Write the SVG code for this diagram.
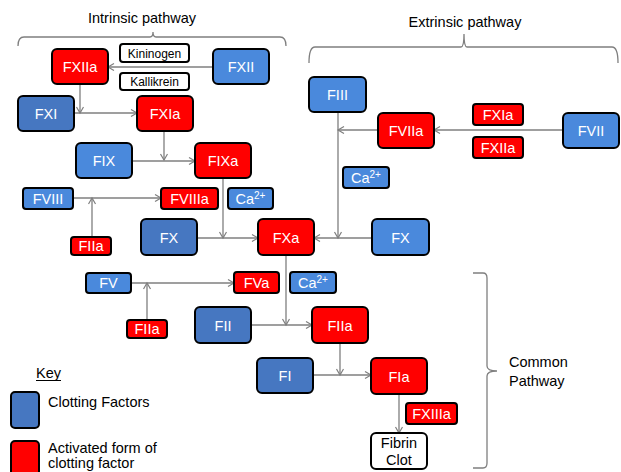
<svg xmlns="http://www.w3.org/2000/svg" width="621" height="472" viewBox="0 0 621 472">
<style>
.n rect{stroke:#000;stroke-width:2}
.r{fill:#FF0000}
.b{fill:#4A89DC}
.d{fill:#4677C1}
.w{fill:#fff}
.t{font-family:"Liberation Sans",Arial,sans-serif;font-size:14.5px;fill:#fff;text-anchor:middle}
.s{font-family:"Liberation Sans",Arial,sans-serif;font-size:12px;fill:#000;text-anchor:middle}
.k{font-family:"Liberation Sans",Arial,sans-serif;font-size:14.5px;fill:#000}
.c line{stroke:#7f7f7f;stroke-width:1.3;marker-end:url(#ah)}
.br{fill:none;stroke:#7f7f7f;stroke-width:1.3}
</style>
<defs>
<marker id="ah" markerUnits="userSpaceOnUse" markerWidth="10" markerHeight="10" refX="7" refY="4" orient="auto">
<path d="M1,0.5 L7,4 L1,7.5" fill="none" stroke="#7f7f7f" stroke-width="1.2"/>
</marker>
</defs>
<rect width="621" height="472" fill="#fff"/>

<!-- titles and braces -->
<text class="k" x="142" y="23" text-anchor="middle">Intrinsic pathway</text>
<path class="br" d="M18,46 Q18,37 24,37 L150,37 Q153,37 153,32 Q153,37 156,37 L280,37 Q286,37 286,46"/>
<text class="k" x="465" y="27" text-anchor="middle">Extrinsic pathway</text>
<path class="br" d="M309,63 Q309,47 315,47 L461,47 Q464,47 464,34 Q464,47 467,47 L612,47 Q618,47 618,63"/>
<path class="br" d="M473,273 L483,273 Q487,273 487,278 L487,366 Q487,371 497,371 Q487,371 487,376 L487,463 Q487,468 483,468 L473,468"/>
<text class="k" x="509" y="367">Common</text>
<text class="k" x="509" y="386">Pathway</text>

<!-- connectors -->
<g class="c">
<line x1="213" y1="67" x2="108" y2="67"/>
<line x1="80" y1="84" x2="80" y2="113"/>
<line x1="74" y1="113" x2="137" y2="113"/>
<line x1="164" y1="131" x2="164" y2="160"/>
<line x1="132" y1="161" x2="195" y2="161"/>
<line x1="73" y1="198" x2="161" y2="198"/>
<line x1="92" y1="237" x2="92" y2="198"/>
<line x1="223" y1="178" x2="223" y2="238"/>
<line x1="197" y1="238" x2="258" y2="238"/>
<line x1="372" y1="238" x2="314" y2="238"/>
<line x1="338" y1="112" x2="338" y2="238"/>
<line x1="563" y1="130" x2="434" y2="130"/>
<line x1="378" y1="130" x2="338" y2="130"/>
<line x1="131" y1="283" x2="234" y2="283"/>
<line x1="147" y1="320" x2="147" y2="283"/>
<line x1="286" y1="255" x2="286" y2="325"/>
<line x1="251" y1="325" x2="312" y2="325"/>
<line x1="340" y1="343" x2="340" y2="375"/>
<line x1="313" y1="375" x2="371" y2="375"/>
<line x1="399" y1="394" x2="399" y2="433"/>
</g>

<!-- nodes -->
<g id="FXIIa" class="n"><rect class="r" x="52" y="49" width="56" height="35" rx="5"/><text class="t" x="80" y="72">FXIIa</text></g>
<g id="Kininogen" class="n"><rect class="w" x="120" y="44" width="69" height="18" rx="3"/><text class="s" x="154.5" y="57.5">Kininogen</text></g>
<g id="Kallikrein" class="n"><rect class="w" x="120" y="73" width="69" height="17" rx="3"/><text class="s" x="154.5" y="86">Kallikrein</text></g>
<g id="FXII" class="n"><rect class="b" x="213" y="49" width="56" height="35" rx="5"/><text class="t" x="241" y="72">FXII</text></g>
<g id="FXI" class="n"><rect class="d" x="18" y="96" width="56" height="35" rx="5"/><text class="t" x="46" y="119">FXI</text></g>
<g id="FXIa" class="n"><rect class="r" x="137" y="96" width="56" height="35" rx="5"/><text class="t" x="165" y="119">FXIa</text></g>
<g id="FIX" class="n"><rect class="b" x="76" y="143" width="56" height="35" rx="5"/><text class="t" x="104" y="166">FIX</text></g>
<g id="FIXa" class="n"><rect class="r" x="195" y="143" width="56" height="35" rx="5"/><text class="t" x="223" y="166">FIXa</text></g>
<g id="FVIII" class="n"><rect class="b" x="23" y="188" width="50" height="21" rx="3"/><text class="t" x="48" y="204">FVIII</text></g>
<g id="FVIIIa" class="n"><rect class="r" x="161" y="188" width="57" height="21" rx="3"/><text class="t" x="189.5" y="204">FVIIIa</text></g>
<g id="Ca1" class="n"><rect class="b" x="228" y="188" width="45" height="21" rx="3"/><text class="t" x="250.5" y="204">Ca<tspan font-size="10" dy="-5">2+</tspan></text></g>
<g id="FIIa1" class="n"><rect class="r" x="71" y="237" width="40" height="18" rx="3"/><text class="t" x="91" y="251">FIIa</text></g>
<g id="FXleft" class="n"><rect class="d" x="141" y="219" width="56" height="36" rx="5"/><text class="t" x="169" y="243">FX</text></g>
<g id="FXa" class="n"><rect class="r" x="258" y="219" width="56" height="36" rx="5"/><text class="t" x="286" y="243">FXa</text></g>
<g id="FXright" class="n"><rect class="b" x="372" y="219" width="57" height="36" rx="5"/><text class="t" x="400.5" y="243">FX</text></g>
<g id="FIII" class="n"><rect class="b" x="309" y="77" width="57" height="35" rx="5"/><text class="t" x="337.5" y="100">FIII</text></g>
<g id="Ca2" class="n"><rect class="b" x="343" y="167" width="46" height="21" rx="3"/><text class="t" x="366" y="183">Ca<tspan font-size="10" dy="-5">2+</tspan></text></g>
<g id="FVIIa" class="n"><rect class="r" x="378" y="113" width="56" height="35" rx="5"/><text class="t" x="406" y="136">FVIIa</text></g>
<g id="FXIa2" class="n"><rect class="r" x="473" y="104" width="50" height="21" rx="3"/><text class="t" x="498" y="120">FXIa</text></g>
<g id="FXIIa2" class="n"><rect class="r" x="473" y="137" width="50" height="21" rx="3"/><text class="t" x="498" y="153">FXIIa</text></g>
<g id="FVII" class="n"><rect class="b" x="563" y="113" width="56" height="35" rx="5"/><text class="t" x="591" y="136">FVII</text></g>
<g id="FV" class="n"><rect class="b" x="86" y="273" width="45" height="20" rx="3"/><text class="t" x="108.5" y="288">FV</text></g>
<g id="FVa" class="n"><rect class="r" x="234" y="272" width="45" height="21" rx="3"/><text class="t" x="256.5" y="288">FVa</text></g>
<g id="Ca3" class="n"><rect class="b" x="290" y="272" width="46" height="21" rx="3"/><text class="t" x="313" y="288">Ca<tspan font-size="10" dy="-5">2+</tspan></text></g>
<g id="FIIa2" class="n"><rect class="r" x="127" y="320" width="40" height="18" rx="3"/><text class="t" x="147" y="334">FIIa</text></g>
<g id="FII" class="n"><rect class="d" x="195" y="307" width="56" height="36" rx="5"/><text class="t" x="223" y="331">FII</text></g>
<g id="FIIa" class="n"><rect class="r" x="312" y="307" width="56" height="36" rx="5"/><text class="t" x="340" y="331">FIIa</text></g>
<g id="FI" class="n"><rect class="d" x="257" y="358" width="56" height="35" rx="5"/><text class="t" x="285" y="381">FI</text></g>
<g id="FIa" class="n"><rect class="r" x="371" y="358" width="56" height="36" rx="5"/><text class="t" x="399" y="382">FIa</text></g>
<g id="FXIIIa" class="n"><rect class="r" x="406" y="403" width="51" height="21" rx="3"/><text class="t" x="431.5" y="419">FXIIIa</text></g>
<g id="Fibrin" class="n"><rect class="w" x="371" y="433" width="56" height="36" rx="5"/><text class="t" x="399" y="448" style="fill:#000">Fibrin</text><text class="t" x="399" y="465" style="fill:#000">Clot</text></g>

<!-- key -->
<g id="key">
<text class="k" x="36" y="378">Key</text>
<line x1="36" y1="380.5" x2="61" y2="380.5" stroke="#000" stroke-width="1"/>
<g class="n"><rect class="d" x="11" y="392" width="28" height="36" rx="4"/></g>
<text class="k" x="48" y="407">Clotting Factors</text>
<g class="n"><rect class="r" x="11" y="441" width="28" height="40" rx="4"/></g>
<text class="k" x="48" y="453">Activated form of</text>
<text class="k" x="48" y="468">clotting factor</text>
</g>
</svg>
